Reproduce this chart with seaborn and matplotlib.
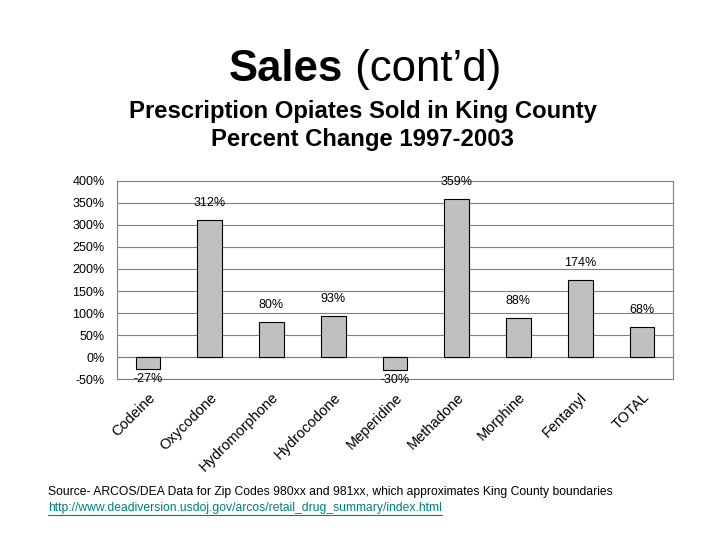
import matplotlib
matplotlib.use('Agg')
import matplotlib.pyplot as plt
import seaborn as sns
import pandas as pd

# values (percent change 1997-2003)
drugs = ['Codeine', 'Oxycodone', 'Hydromorphone', 'Hydrocodone', 'Meperidine',
         'Methadone', 'Morphine', 'Fentanyl', 'TOTAL']
pct_change = [-27, 312, 80, 93, -30, 359, 88, 174, 68]
y_ticks = [-50, 0, 50, 100, 150, 200, 250, 300, 350, 400]

df = pd.DataFrame({'drug': drugs, 'pct': pct_change})

sns.set_style('white')
plt.rcParams['font.family'] = ['Liberation Sans', 'DejaVu Sans']
plt.rcParams['text.color'] = 'black'
plt.rcParams['xtick.color'] = 'black'
plt.rcParams['ytick.color'] = 'black'

fig = plt.figure(figsize=(7.2, 5.4), dpi=100)
ax = fig.add_axes([0.1625, 0.298, 0.772, 0.367])

sns.barplot(data=df, x='drug', y='pct', color='#c0c0c0', edgecolor='black',
            linewidth=0.8, width=0.4, saturation=1, ax=ax, zorder=3)

ax.set_ylim(-50, 400)
ax.set_xlim(-0.5, len(drugs) - 0.5)
ax.set_yticks(y_ticks)
ax.set_yticklabels([f'{t}%' for t in y_ticks], fontsize=9)
ax.yaxis.grid(True, color='#808080', linewidth=0.8, zorder=0)
ax.axhline(0, color='#808080', linewidth=0.8, zorder=1)
for s in ax.spines.values():
    s.set_color('#808080')
    s.set_linewidth(0.8)
ax.tick_params(axis='y', length=0, pad=9)
ax.tick_params(axis='x', length=0, pad=8)
ax.set_xticks(range(len(drugs)))
ax.set_xticklabels(drugs, rotation=45, ha='right', rotation_mode='anchor', fontsize=10.5)
ax.set_xlabel('')
ax.set_ylabel('')

# data labels
for i, v in enumerate(pct_change):
    if v >= 0:
        ax.annotate(f'{v}%', (i, v), xytext=(0, 8), textcoords='offset points',
                    ha='center', va='bottom', fontsize=9)
    else:
        ax.annotate(f'{v}%', (i, v), xytext=(0, -3), textcoords='offset points',
                    ha='center', va='top', fontsize=9)

# titles
fig.text(0.477, 0.872, 'Sales', ha='right', va='center', fontsize=31.5, fontweight='bold')
fig.text(0.477, 0.872, ' (cont\u2019d)', ha='left', va='center', fontsize=31.5)
fig.text(0.504, 0.793, 'Prescription Opiates Sold in King County', ha='center', va='center',
         fontsize=17.2, fontweight='bold')
fig.text(0.504, 0.741, 'Percent Change 1997-2003', ha='center', va='center',
         fontsize=17.2, fontweight='bold')

# source notes
fig.text(0.067, 0.088, 'Source- ARCOS/DEA Data for Zip Codes 980xx and 981xx, which approximates King County boundaries',
         ha='left', va='center', fontsize=8.7)
link = fig.text(0.067, 0.06, 'http://www.deadiversion.usdoj.gov/arcos/retail_drug_summary/index.html',
                ha='left', va='center', fontsize=8.7, color='#008080')
fig.canvas.draw()
bb = link.get_window_extent().transformed(fig.transFigure.inverted())
fig.add_artist(plt.Line2D([bb.x0, bb.x1], [bb.y0 - 0.002, bb.y0 - 0.002],
                          color='#008080', linewidth=0.8))

fig.savefig('out.png', dpi=100)
